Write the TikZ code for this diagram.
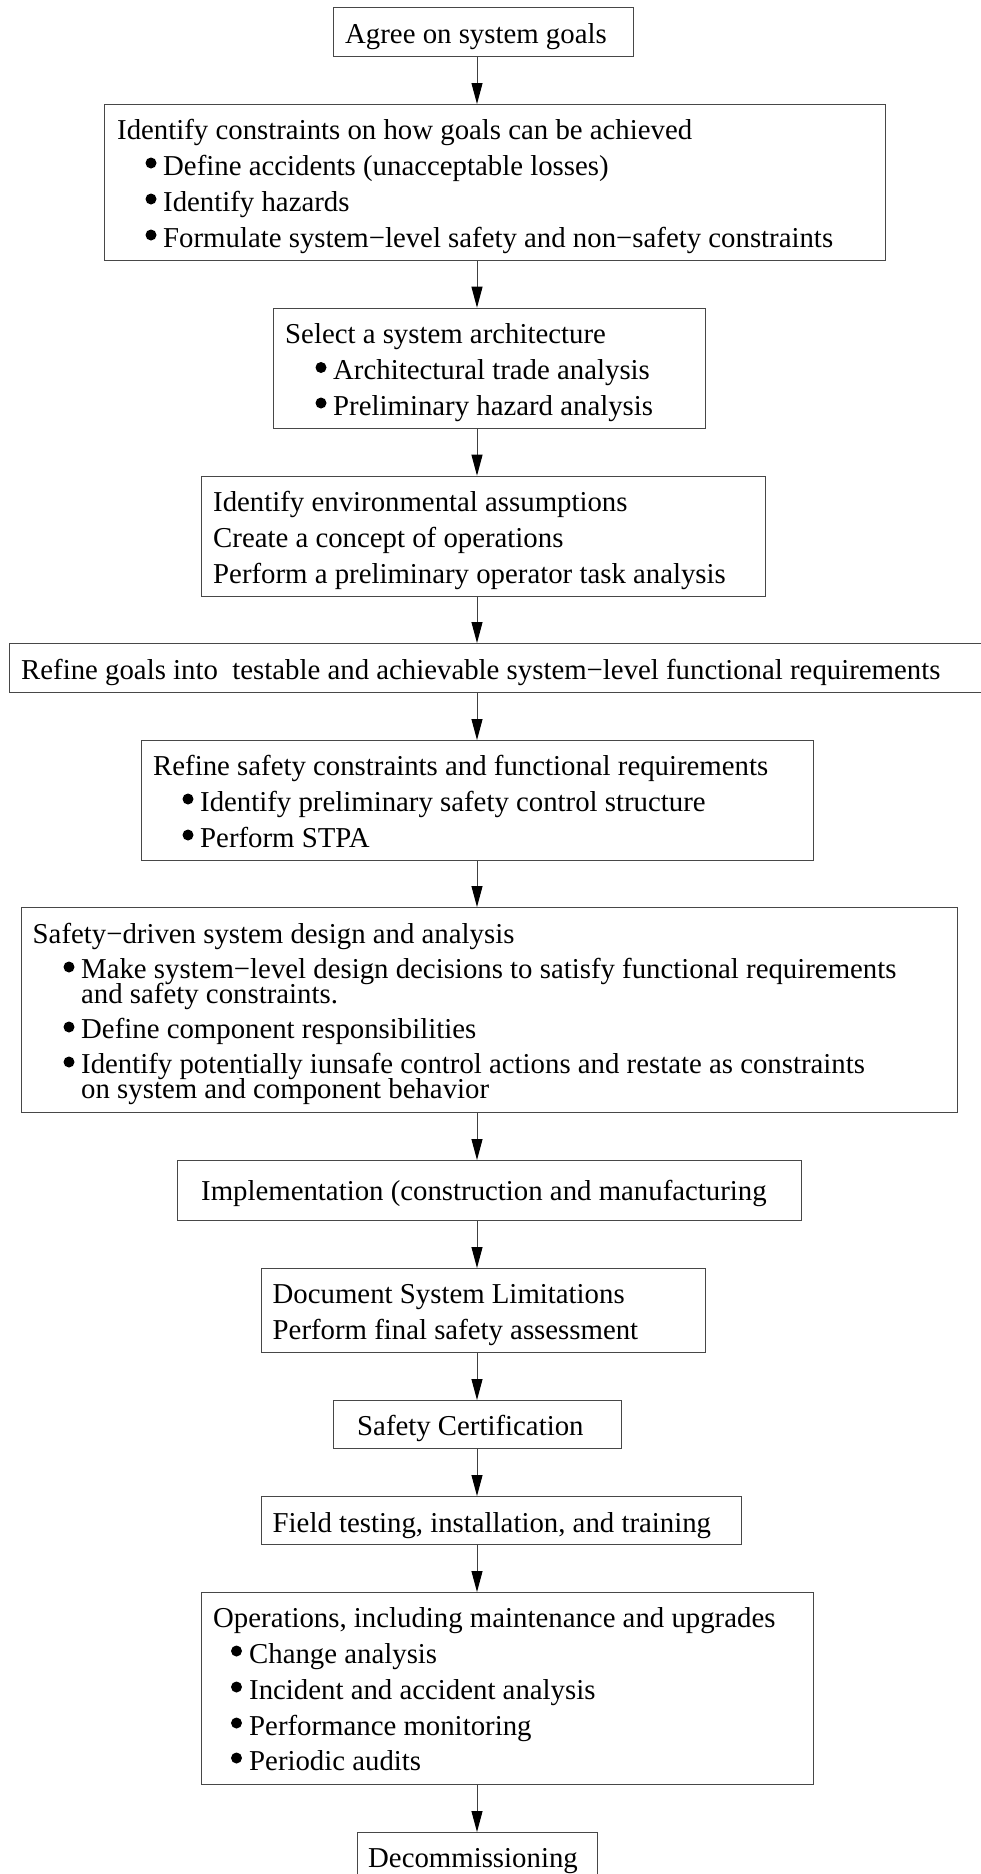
\documentclass[tikz,border=0pt]{standalone}
\usepackage{fontspec}
\setmainfont{Liberation Serif}
\usetikzlibrary{arrows.meta}
\begin{document}
\begin{tikzpicture}[x=1pt,y=-1pt,
  box/.style={draw=black!72, line width=1.3pt, inner sep=0pt, anchor=north west},
  txt/.style={anchor=base west, inner sep=0pt, font=\fontsize{28.8}{34}\selectfont},
  dot/.style={circle, fill=black, draw=none, inner sep=0pt, minimum size=11pt},
  arr/.style={draw=black!75, line width=1pt, -{Triangle[length=21pt,width=11pt,color=black]}}]
\useasboundingbox (0,0) rectangle (980,1874);
\coordinate (ax) at (477,0);
% boxes
\node[box, minimum width=300pt, minimum height=49pt] (b1) at (332.5,7) {};
\node[box, minimum width=781pt, minimum height=156pt] (b2) at (104,104) {};
\node[box, minimum width=432.5pt, minimum height=120pt] (b3) at (272.5,307.7) {};
\node[box, minimum width=564.4pt, minimum height=120.3pt] (b4) at (200.6,475.7) {};
\node[box, minimum width=985pt, minimum height=49pt] (b5) at (9,643) {};
\node[box, minimum width=671.5pt, minimum height=120pt] (b6) at (141,740) {};
\node[box, minimum width=936.4pt, minimum height=205pt] (b7) at (20.6,907) {};
\node[box, minimum width=623.6pt, minimum height=60pt] (b8) at (177,1160) {};
\node[box, minimum width=444.4pt, minimum height=84pt] (b9) at (260.6,1268) {};
\node[box, minimum width=288.1pt, minimum height=48pt] (b10) at (332.5,1400) {};
\node[box, minimum width=480.4pt, minimum height=48pt] (b11) at (260.6,1496) {};
\node[box, minimum width=611.9pt, minimum height=192pt] (b12) at (200.6,1592) {};
\node[box, minimum width=240pt, minimum height=70pt] (b13) at (356.7,1832) {};
% texts
\node[txt] (t1) at (345,43) {Agree on system goals};
\node[txt] (t2a) at (117,139) {Identify constraints on how goals can be achieved};
\node[txt] (t2b) at (163,175) {Define accidents (unacceptable losses)};
\node[txt] (t2c) at (163,211) {Identify hazards};
\node[txt] (t2d) at (163,247) {Formulate system−level safety and non−safety constraints};
\node[dot] (d2b) at (151,163) {};
\node[dot] (d2c) at (151,199) {};
\node[dot] (d2d) at (151,235) {};
\node[txt] (t3a) at (285,343.3) {Select a system architecture};
\node[txt] (t3b) at (333,379.3) {Architectural trade analysis};
\node[txt] (t3c) at (333,415) {Preliminary hazard analysis};
\node[dot] (d3b) at (321,367.5) {};
\node[dot] (d3c) at (321,403) {};
\node[txt] (t4a) at (213,511.7) {Identify environmental assumptions};
\node[txt] (t4b) at (213,547.3) {Create a concept of operations};
\node[txt] (t4c) at (213,583.3) {Perform a preliminary operator task analysis};
\node[txt] (t5) at (21,679) {Refine goals into\ \ testable and achievable system−level functional requirements};
\node[txt] (t6a) at (153,775) {Refine safety constraints and functional requirements};
\node[txt] (t6b) at (200,811) {Identify preliminary safety control structure};
\node[txt] (t6c) at (200,847) {Perform STPA};
\node[dot] (d6b) at (188,799) {};
\node[dot] (d6c) at (188,835) {};
\node[txt] (t7a) at (32.5,943) {Safety−driven system design and analysis};
\node[txt] (t7b) at (81,978) {Make system−level design decisions to satisfy functional requirements};
\node[txt] (t7c) at (81,1003) {and safety constraints.};
\node[txt] (t7d) at (81,1038) {Define component responsibilities};
\node[txt] (t7e) at (81,1073) {Identify potentially iunsafe control actions and restate as constraints};
\node[txt] (t7f) at (81,1098) {on system and component behavior};
\node[dot] (d7b) at (69,967) {};
\node[dot] (d7d) at (69,1027) {};
\node[dot] (d7e) at (69,1062) {};
\node[txt] (t8) at (201,1200) {Implementation (construction and manufacturing};
\node[txt] (t9a) at (272.5,1303) {Document System Limitations};
\node[txt] (t9b) at (272.5,1339) {Perform final safety assessment};
\node[txt] (t10) at (357,1435) {Safety Certification};
\node[txt] (t11) at (272.5,1532) {Field testing, installation, and training};
\node[txt] (t12a) at (213,1627) {Operations, including maintenance and upgrades};
\node[txt] (t12b) at (249,1663) {Change analysis};
\node[txt] (t12c) at (249,1699) {Incident and accident analysis};
\node[txt] (t12d) at (249,1735) {Performance monitoring};
\node[txt] (t12e) at (249,1770) {Periodic audits};
\node[dot] (d12b) at (236.5,1651) {};
\node[dot] (d12c) at (236.5,1687) {};
\node[dot] (d12d) at (236.5,1723) {};
\node[dot] (d12e) at (236.5,1758) {};
\node[txt] (t13) at (368,1867) {Decommissioning};
% connectors
\foreach \a/\b in {b1/b2,b2/b3,b3/b4,b4/b5,b5/b6,b6/b7,b7/b8,b8/b9,b9/b10,b10/b11,b11/b12,b12/b13}
  \draw[arr] (\a.south -| ax) -- (\b.north -| ax);
\end{tikzpicture}
\end{document}
